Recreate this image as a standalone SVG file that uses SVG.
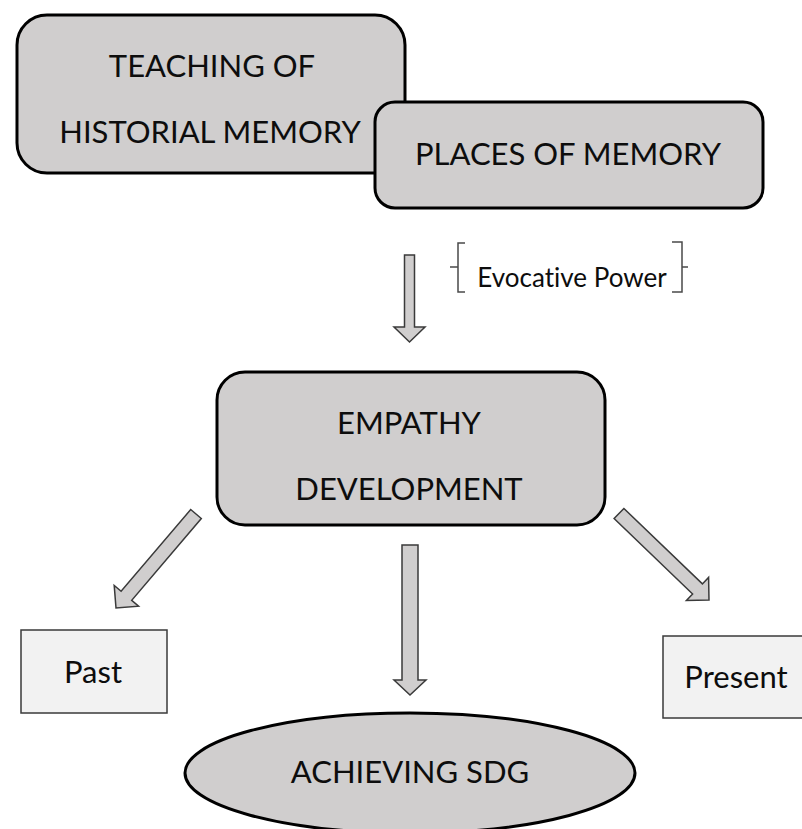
<svg xmlns="http://www.w3.org/2000/svg" width="802" height="829" viewBox="0 0 802 829">
<style>
.box{fill:#d0cece;stroke:#000;stroke-width:3}
.lbox{fill:#f2f2f2;stroke:#3a3a3a;stroke-width:1.5}
.arr{fill:#d0cece;stroke:#3a3a3a;stroke-width:1.5;stroke-linejoin:miter}
.t{font-family:Lato,"Open Sans",sans-serif;font-size:31px;fill:#0d0d0d;text-anchor:middle;font-variant-ligatures:none}
.brace{fill:none;stroke:#4a4a4a;stroke-width:1.5}
</style>
<rect width="802" height="829" fill="#fff"/>
<g id="teaching">
<rect class="box" x="17" y="15" width="388" height="158" rx="30"/>
<text class="t" x="212" y="77">TEACHING OF</text>
<text class="t" x="210" y="143">HISTORIAL MEMORY</text>
</g>
<g id="places">
<rect class="box" x="375" y="102" width="388" height="106" rx="20"/>
<text class="t" x="568" y="165">PLACES OF MEMORY</text>
</g>
<g id="evocative">
<path class="brace" d="M465,243 H458 V267 H450 M458,267 V292 H465"/>
<path class="brace" d="M672,242 H682 V267 H688 M682,267 V292 H672"/>
<text class="t" x="572" y="287" style="font-size:26px">Evocative Power</text>
</g>
<g id="empathy">
<rect class="box" x="217" y="372" width="388" height="153" rx="28"/>
<text class="t" x="409" y="434">EMPATHY</text>
<text class="t" x="409" y="500">DEVELOPMENT</text>
</g>
<g id="past">
<rect class="lbox" x="21" y="630" width="146" height="83"/>
<text class="t" x="93" y="683">Past</text>
</g>
<g id="present">
<rect class="lbox" x="663" y="636" width="150" height="82"/>
<text class="t" x="736" y="688">Present</text>
</g>
<g id="sdg">
<ellipse class="box" cx="410" cy="773" rx="225" ry="60"/>
<text class="t" x="410" y="783">ACHIEVING SDG</text>
</g>
<g id="connectors">
<polygon class="arr" points="404.5,255 414.5,255 414.5,327 425,327 409.5,342 394,327 404.5,327"/>
<polygon class="arr" points="402,545 418,545 418,680 426,680 410,695 394,680 402,680"/>
<polygon class="arr" points="190.7,509.5 201.3,518.5 131.7,600.3 138.6,606.2 116,608 114.2,585.4 121.1,591.3"/>
<polygon class="arr" points="623.9,508.5 702.4,583.9 708.6,577.4 709,600 686.4,600.4 692.6,593.9 614.1,518.5"/>
</g>
</svg>
